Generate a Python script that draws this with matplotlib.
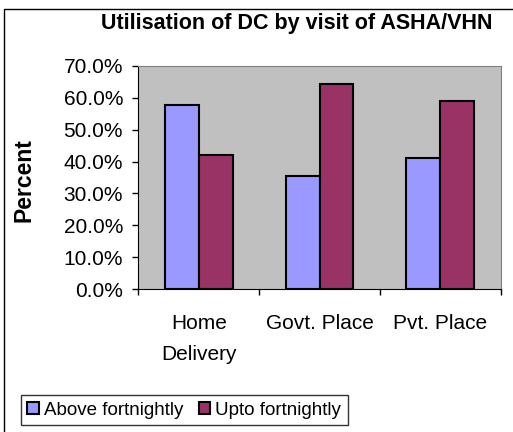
import numpy as np
import matplotlib
matplotlib.use("Agg")
import matplotlib.pyplot as plt
from matplotlib.patches import Rectangle
from matplotlib.ticker import FuncFormatter

plt.rcParams['font.family'] = ['Liberation Sans', 'DejaVu Sans']

categories = ["Home\nDelivery", "Govt. Place", "Pvt. Place"]
above = [57.8, 35.6, 41.1]
upto = [42.2, 64.4, 58.9]
series_names = ["Above fortnightly", "Upto fortnightly"]

W, H = 513, 432
fig = plt.figure(figsize=(W / 100, H / 100), dpi=100)

# outer chart border (Excel style)
fig.patches.append(Rectangle((4 / W, -0.1), 1.2, 1.1 - 9 / H, transform=fig.transFigure,
                             fill=False, edgecolor="black", linewidth=1.0))

ax = fig.add_axes([138.3 / W, 1 - 289.3 / H, (500.7 - 138.3) / W, (289.3 - 65.7) / H])
ax.set_facecolor("#C0C0C0")

x = np.arange(len(categories))
w = 0.28
b1 = ax.bar(x - w / 2, above, w, color="#9999FF", edgecolor="black", linewidth=1.5,
            label=series_names[0], zorder=3)
b2 = ax.bar(x + w / 2, upto, w, color="#993366", edgecolor="black", linewidth=1.5,
            label=series_names[1], zorder=3)

ax.set_xlim(-0.5, 2.5)
ax.set_ylim(0, 70)
ax.set_yticks(np.arange(0, 71, 10))
ax.yaxis.set_major_formatter(FuncFormatter(lambda v, p: f"{v:.1f}%"))
ax.tick_params(axis="y", length=4, width=1, labelsize=15, pad=7, direction="out")

# category ticks sit on boundaries, labels in the middle
ax.set_xticks([-0.5, 0.5, 1.5, 2.5])
ax.set_xticklabels([])
ax.set_xticks(x, minor=True)
ax.set_xticklabels(categories, minor=True, fontsize=15, linespacing=1.75, va="top")
ax.tick_params(axis="x", which="major", length=4, width=1, direction="out")
ax.tick_params(axis="x", which="minor", length=0, pad=18)

for side in ["top", "right"]:
    ax.spines[side].set_color("#808080")
for side in ["left", "bottom"]:
    ax.spines[side].set_color("black")

fig.text(24 / W, 1 - 180 / H, "Percent", rotation=90, ha="center", va="center",
         fontsize=16.5, fontweight="bold")
fig.text(297 / W, 1 - 23 / H, "Utilisation of DC by visit of ASHA/VHN", ha="center", va="center",
         fontsize=15.5, fontweight="bold")

leg = fig.legend(handles=[b1, b2], loc="upper left", bbox_to_anchor=(20.7 / W, 1 - 395.3 / H),
                 ncol=2, fontsize=13.5, frameon=True, fancybox=False, handlelength=0.6,
                 handleheight=0.6, handletextpad=0.3, columnspacing=0.8, borderpad=0.35,
                 borderaxespad=0)
leg.get_frame().set_edgecolor("black")
leg.get_frame().set_linewidth(1.0)

fig.savefig("out.png", dpi=100)
